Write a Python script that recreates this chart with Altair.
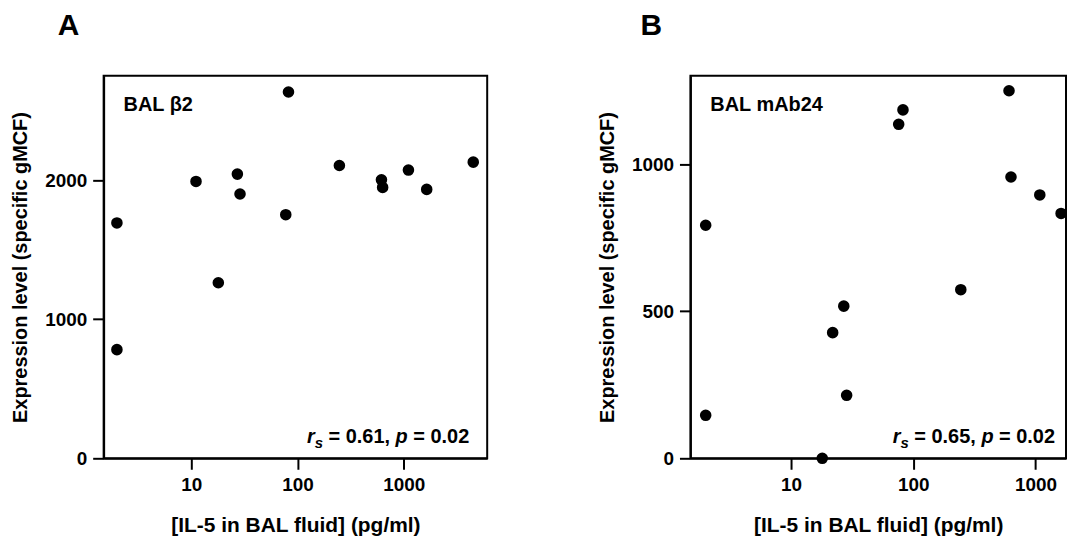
import altair as alt
import pandas as pd

# ---------------- data ----------------
il5_a = [2.0, 2.0, 11.1, 18.0, 27.2, 28.8, 77.6, 82.3, 248, 617, 633, 1107, 1645, 4510]
expr_a = [1692, 781, 1990, 1262, 2043, 1900, 1751, 2633, 2105, 2002, 1947, 2072, 1933, 2129]

il5_b = [2.0, 2.0, 18.0, 21.9, 27.0, 28.5, 76, 82.4, 245, 608, 631, 1086, 1623]
expr_b = [792, 146, 0, 427, 517, 214, 1135, 1184, 573, 1249, 956, 895, 832]

x_ticks = [10, 100, 1000]
y_ticks_a = [0, 1000, 2000]
y_ticks_b = [0, 500, 1000]

labels_panel = ["A", "B"]
labels_inset = ["BAL β2", "BAL mAb24"]
rs_values = ["0.61", "0.65"]
p_values = ["0.02", "0.02"]

x_title = "[IL-5 in BAL fluid] (pg/ml)"
y_title = "Expression level (specific gMCF)"

FONT = "Liberation Sans"
H = 384

# Arial/Liberation Sans Bold advance widths (em)
W = {" ": 0.278, "=": 0.584, ",": 0.278, ".": 0.278, "p": 0.611, "r": 0.389, "s": 0.556}
for d in "0123456789":
    W[d] = 0.556


def tw(s, size):
    return sum(W.get(c, 0.556) for c in s) * size


def txt(text, x, y, size=20, style="normal", align="left"):
    return alt.Chart(pd.DataFrame({"t": [text]})).mark_text(
        font=FONT, fontSize=size, fontWeight="bold", fontStyle=style,
        align=align, baseline="alphabetic", color="black"
    ).encode(text="t:N", x=alt.value(x), y=alt.value(y))


def panel(il5, expr, width, xdom, ydom, yticks, letter, letter_dx, inset, rs, pv, right_in):
    df = pd.DataFrame({"il5": il5, "expr": expr})
    pts = alt.Chart(df).mark_circle(size=135, color="black", opacity=1).encode(
        x=alt.X("il5:Q",
                scale=alt.Scale(type="log", domain=xdom, nice=False),
                axis=alt.Axis(values=x_ticks, format="d", title=x_title,
                              titlePadding=20)),
        y=alt.Y("expr:Q",
                scale=alt.Scale(domain=ydom, nice=False, zero=True),
                axis=alt.Axis(values=yticks, format="d", title=y_title,
                              titlePadding=14)),
    )
    # statistic annotation: r_s = .., p = ..
    F, FS = 20, 15
    base_y = H - 15
    parts_w = tw("r", F) + tw("s", FS) + tw(" = " + rs + ", ", F) + tw("p", F) + tw(" = " + pv, F)
    x0 = width - right_in - parts_w
    xr = x0
    layers = [pts, txt(inset, 20, 35)]
    layers.append(txt("r", xr, base_y, F, "italic"))
    xr += tw("r", F)
    layers.append(txt("s", xr, base_y + 5, FS, "italic"))
    xr += tw("s", FS)
    layers.append(txt("= " + rs + ",", xr + tw(" ", F), base_y, F))
    xr += tw(" = " + rs + ", ", F)
    layers.append(txt("p", xr, base_y, F, "italic"))
    xr += tw("p", F)
    layers.append(txt("= " + pv, xr + tw(" ", F), base_y, F))
    return alt.layer(*layers).properties(
        width=width, height=H,
        title=alt.TitleParams(letter, anchor="start", frame="group", fontSize=30,
                              fontWeight="bold", font=FONT, dx=letter_dx, offset=11,
                              baseline="alphabetic", color="black"),
    )


pa = panel(il5_a, expr_a, 385, [1.5, 6100], [0, 2750], y_ticks_a,
           labels_panel[0], -46, labels_inset[0], rs_values[0], p_values[0], 18)
pb = panel(il5_b, expr_b, 377, [1.5, 1780], [0, 1300], y_ticks_b,
           labels_panel[1], -50, labels_inset[1], rs_values[1], p_values[1], 11)

chart = alt.hconcat(pa, pb, spacing=108).configure(
    background="white",
    padding={"top": 1, "left": 1, "right": 0, "bottom": 0},
).configure_view(
    stroke="black", strokeWidth=2
).configure_axis(
    grid=False,
    domainColor="black", domainWidth=2,
    tickColor="black", tickWidth=2, tickSize=11,
    labelFont=FONT, labelFontSize=19, labelFontWeight="bold", labelColor="black",
    labelPadding=6,
    titleFont=FONT, titleFontWeight="bold", titleColor="black",
).configure_axisX(
    titleFontSize=21
).configure_axisY(
    titleFontSize=20
)

chart.save("out.html", embed_options={"renderer": "svg", "actions": False})
